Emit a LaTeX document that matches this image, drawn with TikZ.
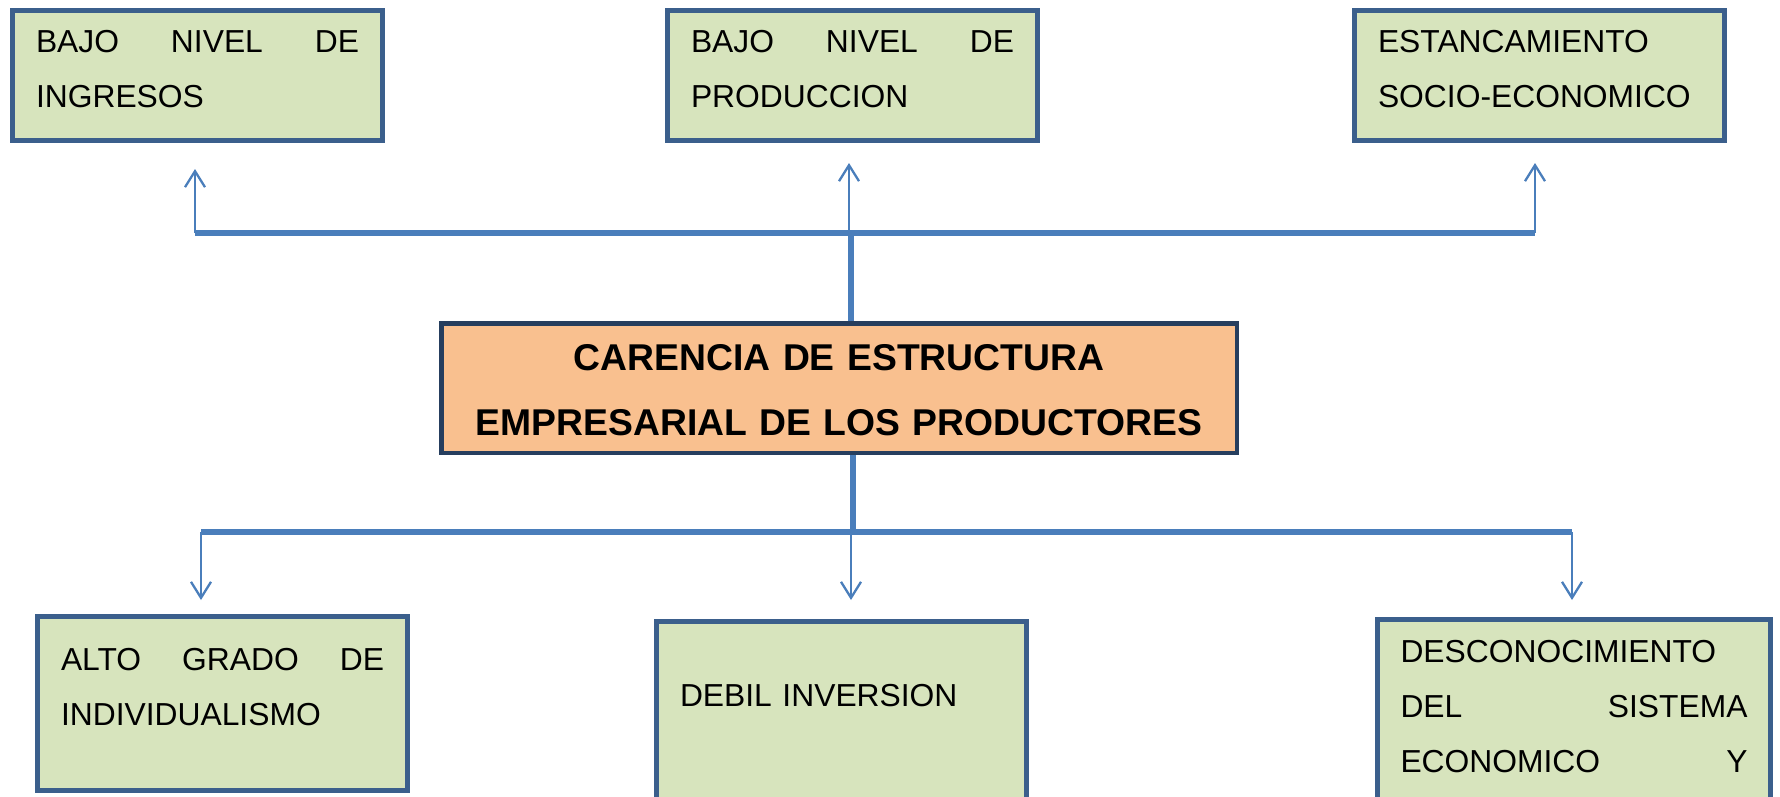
\documentclass[tikz,border=0pt]{standalone}
\usepackage{fontspec}
\setmainfont{Liberation Sans}
\usetikzlibrary{arrows.meta}
\definecolor{verde}{HTML}{D7E4BD}
\definecolor{borde}{HTML}{3B5F8C}
\definecolor{naranja}{HTML}{F9C08F}
\definecolor{bordeosc}{HTML}{263E5E}
\definecolor{linea}{HTML}{4A7EBB}
\begin{document}
\begin{tikzpicture}[x=1pt,y=-1pt,>={Straight Barb[length=16pt,width=20pt]},
    caja/.style={draw=borde,fill=verde,line width=5pt,anchor=north west,
      inner xsep=23.5pt,inner ysep=0pt,text width=323pt,align=left,
      font=\fontsize{31.8pt}{55pt}\selectfont},
    centro/.style={draw=bordeosc,fill=naranja,line width=4.5pt,anchor=north west,
      inner xsep=0pt,inner ysep=0pt,text width=795.5pt,align=center,
      text height=46.75pt,text depth=82.75pt,
      font=\bfseries\fontsize{37.3pt}{65pt}\selectfont},
    barra/.style={draw=linea,line width=5.5pt},
    flecha/.style={draw=linea,line width=2.3pt,->}]
\useasboundingbox (0,0) rectangle (1780,797);
\clip (0,0) rectangle (1780,797);
% efectos
\node[caja,text height=42.5pt,text depth=87.5pt] (ingresos) at (10,8) {BAJO\hfill NIVEL\hfill DE\\INGRESOS};
\node[caja,text height=42.5pt,text depth=87.5pt] (produccion) at (665,8) {BAJO\hfill NIVEL\hfill DE\\PRODUCCION};
\node[caja,text height=42.5pt,text depth=87.5pt] (estancamiento) at (1352,8) {ESTANCAMIENTO\\SOCIO-ECONOMICO};
% problema
\node[centro] (carencia) at (439,321) {CARENCIA DE ESTRUCTURA\\EMPRESARIAL DE LOS PRODUCTORES};
% causas
\node[caja,text height=53.5pt,text depth=120.5pt] (individualismo) at (35,614) {ALTO\hfill GRADO\hfill DE\\INDIVIDUALISMO};
\node[caja,text height=84.5pt,text depth=120pt] (inversion) at (654,619) {DEBIL INVERSION};
\node[caja,text width=347pt,inner xsep=23pt,text height=42.5pt,text depth=160pt] (desconocimiento) at (1375,617) {DESCONOCIMIENTO\\DEL\hfill SISTEMA\\ECONOMICO\hfill Y};
% conectores arriba
\coordinate (izq) at (195,233);
\coordinate (med) at (851,233);
\coordinate (der) at (1535,233);
\draw[barra] (izq) -- (der);
\draw[barra] (carencia.north -| med) -- (med);
\draw[flecha] (izq) -- ++(0,-64);
\draw[flecha] (med) ++(-2,0) -- ++(0,-70);
\draw[flecha] (der) -- ++(0,-70);
% conectores abajo
\coordinate (izqb) at (201,532);
\coordinate (medb) at (853,532);
\coordinate (derb) at (1572,532);
\draw[barra] (izqb) -- (derb);
\draw[barra] (carencia.south -| medb) -- (medb);
\draw[flecha] (izqb) -- ++(0,68);
\draw[flecha] (medb) ++(-2,0) -- ++(0,68);
\draw[flecha] (derb) -- ++(0,68);
\end{tikzpicture}
\end{document}
